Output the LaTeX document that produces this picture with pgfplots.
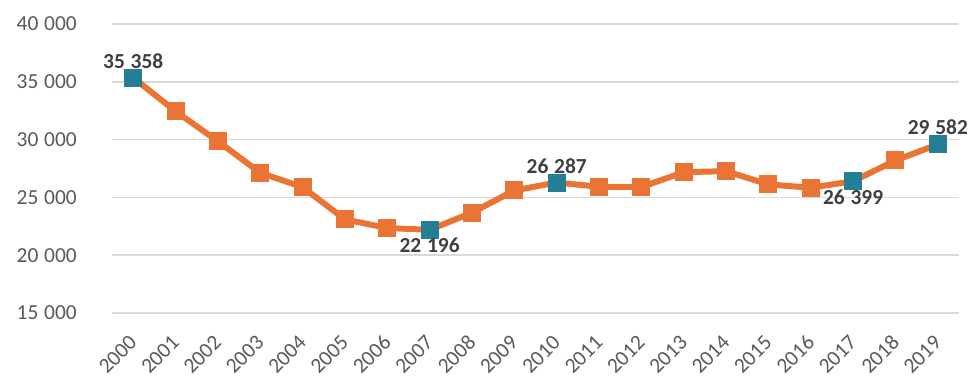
\documentclass[border=0pt]{standalone}
\usepackage{pgfplots}
\pgfplotsset{compat=1.18}
\usepackage{pgfplotstable}
\usepackage{fontspec}
\setmainfont{Carlito}

\definecolor{lineorange}{RGB}{234,116,52}
\definecolor{markteal}{RGB}{36,126,150}
\definecolor{gridgray}{RGB}{217,217,217}
\definecolor{ticktext}{RGB}{89,89,89}
\definecolor{labeltext}{RGB}{64,64,64}
\newcommand\ts{\hspace{0.27em}}

% yearly totals, 2000 = 0
\pgfplotstableread{
x y
0 35358
1 32450
2 29860
3 27130
4 25890
5 23100
6 22350
7 22196
8 23680
9 25600
10 26287
11 25920
12 25900
13 27180
14 27270
15 26120
16 25840
17 26399
18 28200
19 29582
}\series

% highlighted points, label above
\pgfplotstableread{
x y lab
0 35358 {35\ts358}
10 26287 {26\ts287}
19 29582 {29\ts582}
}\above

% highlighted points, label below
\pgfplotstableread{
x y lab
7 22196 {22\ts196}
17 26399 {26\ts399}
}\below

\begin{document}
\begin{tikzpicture}
\useasboundingbox (-112bp,-65bp) rectangle (862bp,313bp);
\begin{axis}[
  scale only axis,
  width=847bp, height=289bp,
  xmin=-0.5, xmax=19.5,
  ymin=15000, ymax=40000,
  scaled y ticks=false,
  axis line style={draw=none},
  ymajorgrids,
  grid style={gridgray, line width=1.5bp},
  major tick length=0pt,
  xtick={0,...,19},
  xticklabels={2000,2001,2002,2003,2004,2005,2006,2007,2008,2009,2010,2011,2012,2013,2014,2015,2016,2017,2018,2019},
  ytick={15000,20000,25000,30000,35000,40000},
  yticklabels={15\ts000,20\ts000,25\ts000,30\ts000,35\ts000,40\ts000},
  every tick label/.append style={font=\fontsize{21.5}{24}\selectfont, text=ticktext},
  yticklabel style={inner sep=0pt, xshift=-35bp},
  xticklabel style={inner sep=0pt, xshift=0bp, yshift=-26bp, rotate=45, anchor=east},
  clip=false,
]
\addplot[lineorange, line width=6bp, mark=square*, mark size=8.5bp,
  mark options={lineorange, line width=0pt}] table[x=x, y=y] {\series};
\addplot[only marks, mark=square*, mark size=8.5bp,
  mark options={markteal, line width=0pt},
  point meta=explicit symbolic,
  nodes near coords,
  every node near coord/.append style={font=\bfseries\fontsize{21.5}{24}\selectfont,
    text=labeltext, anchor=south, yshift=6bp}]
  table[x=x, y=y, meta=lab] {\above};
\addplot[only marks, mark=square*, mark size=8.5bp,
  mark options={markteal, line width=0pt},
  point meta=explicit symbolic,
  nodes near coords,
  every node near coord/.append style={font=\bfseries\fontsize{21.5}{24}\selectfont,
    text=labeltext, anchor=north, yshift=-5bp}]
  table[x=x, y=y, meta=lab] {\below};
\end{axis}
\end{tikzpicture}
\end{document}
